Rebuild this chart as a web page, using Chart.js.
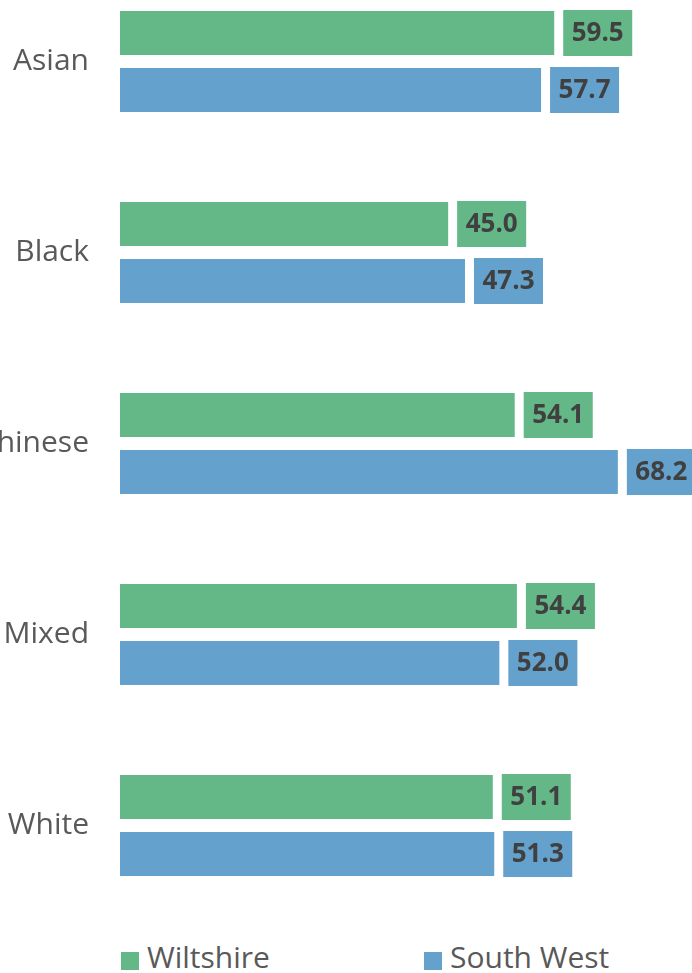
<!DOCTYPE html>
<html>
<head>
<meta charset="utf-8">
<script src="https://cdn.jsdelivr.net/npm/chart.js@4/dist/chart.umd.min.js"></script>
<style>
  html, body { margin: 0; padding: 0; background: #fff; overflow: hidden; width: 692px; height: 973px; }
  #wrap { position: absolute; left: 0; top: -34px; width: 692px; height: 955px; }
  .lg-box { position: absolute; width: 18px; height: 18px; top: 952px; }
  .lg-txt { position: absolute; top: 942px; font-family: "Open Sans", sans-serif; font-size: 30px; line-height: 30px; color: #595959; white-space: nowrap; }
</style>
</head>
<body>
<div id="wrap"><canvas id="c"></canvas></div>
<div class="lg-box" style="left:121px;background:#64b887"></div>
<div class="lg-txt" style="left:147px">Wiltshire</div>
<div class="lg-box" style="left:424px;background:#65a1cd"></div>
<div class="lg-txt" style="left:450px">South West</div>
<script>
const categories = ["Asian", "Black", "Chinese", "Mixed", "White"];
const seriesNames = ["Wiltshire", "South West"];
const wiltshire = [59.5, 45.0, 54.1, 54.4, 51.1];
const southWest = [57.7, 47.3, 68.2, 52.0, 51.3];
const colors = ["#64b887", "#65a1cd"];

const valueLabels = {
  id: 'valueLabels',
  afterDatasetsDraw(chart) {
    const ctx = chart.ctx;
    ctx.save();
    ctx.font = 'bold 26px "Open Sans", sans-serif';
    ctx.textAlign = 'center';
    ctx.textBaseline = 'middle';
    chart.data.datasets.forEach((ds, di) => {
      const meta = chart.getDatasetMeta(di);
      meta.data.forEach((el, i) => {
        const txt = ds.data[i].toFixed(1);
        const tw = ctx.measureText(txt).width;
        const w = tw + 17;
        const h = el.height;
        const x0 = el.x + 8;
        const y0 = el.y - h / 2;
        ctx.fillStyle = ds.backgroundColor;
        ctx.fillRect(x0, y0, w, h);
        ctx.fillStyle = '#404040';
        ctx.fillText(txt, x0 + w / 2, el.y + 1);
      });
    });
    ctx.restore();
  }
};

new Chart(document.getElementById('c'), {
  type: 'bar',
  data: {
    labels: categories,
    datasets: [
      { label: seriesNames[0], data: wiltshire, backgroundColor: colors[0], borderColor: 'rgba(255,255,255,0.55)', borderWidth: 1, barPercentage: 0.807, categoryPercentage: 0.597 },
      { label: seriesNames[1], data: southWest, backgroundColor: colors[1], borderColor: 'rgba(255,255,255,0.55)', borderWidth: 1, barPercentage: 0.807, categoryPercentage: 0.597 }
    ]
  },
  options: {
    indexAxis: 'y',
    responsive: true,
    maintainAspectRatio: false,
    animation: false,
    layout: { padding: 0 },
    plugins: { legend: { display: false }, tooltip: { enabled: false } },
    scales: {
      x: { display: false, min: 0, max: 78.2 },
      y: {
        grid: { display: false, drawTicks: false },
        border: { display: false },
        ticks: { padding: 31, color: '#595959', font: { family: '"Open Sans", sans-serif', size: 30 } },
        afterFit(scale) { scale.width = 120; scale.paddingTop = 0; scale.paddingBottom = 0; }
      }
    }
  },
  plugins: [valueLabels]
});
</script>
</body>
</html>
